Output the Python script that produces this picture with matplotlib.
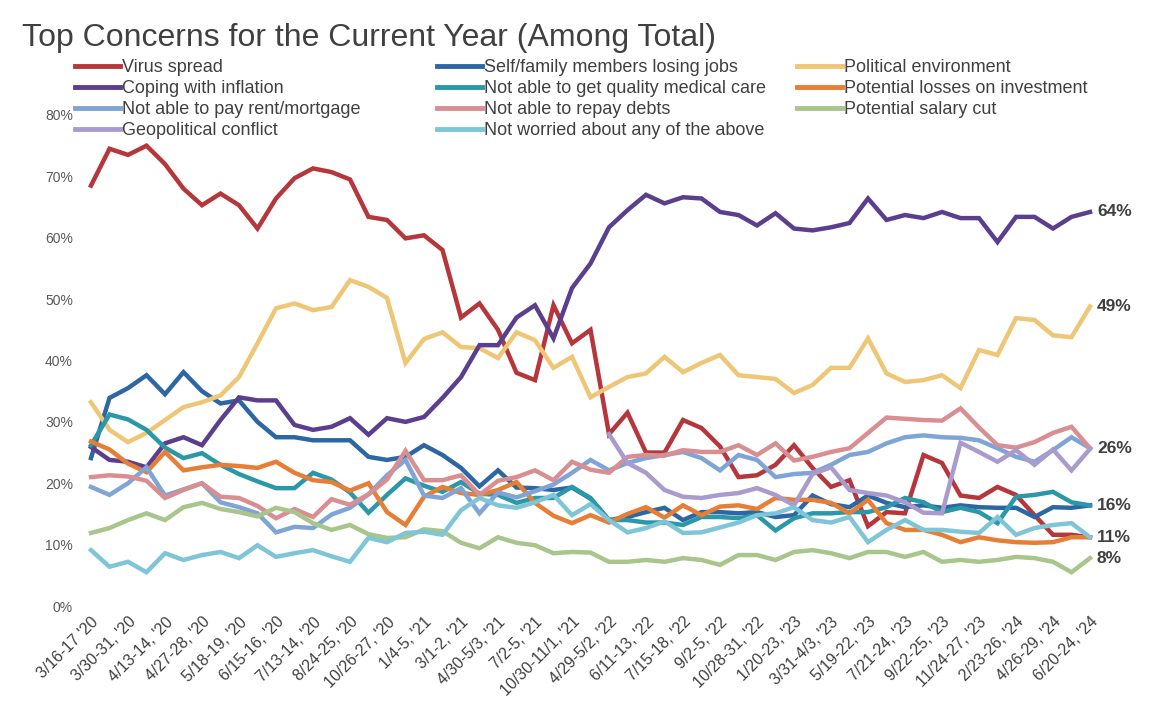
import numpy as np
import matplotlib
matplotlib.use("Agg")
import matplotlib.pyplot as plt
from matplotlib.lines import Line2D

# ---- data (percent), one value per survey wave ----
dates = ["3/16-17 '20", "3/30-31, '20", "4/13-14, '20", "4/27-28, '20", "5/18-19, '20",
         "6/15-16, '20", "7/13-14, '20", "8/24-25, '20", "10/26-27, '20", "1/4-5, '21",
         "3/1-2, '21", "4/30-5/3, '21", "7/2-5, '21", "10/30-11/1, '21", "4/29-5/2, '22",
         "6/11-13, '22", "7/15-18, '22", "9/2-5, '22", "10/28-31, '22", "1/20-23, '23",
         "3/31-4/3, '23", "5/19-22, '23", "7/21-24, '23", "9/22-25, '23", "11/24-27, '23",
         "2/23-26, '24", "4/26-29, '24", "6/20-24, '24"]

virus = [68.5, 74.5, 73.5, 75, 72, 68, 65.3, 67.2, 65.3, 61.5, 66.4, 69.7, 71.3, 70.7, 69.5,
         63.4, 62.9, 59.9, 60.4, 58, 47, 49.3, 45, 38, 36.8, 49, 42.8, 45, 28, 31.5,
         25, 25, 30.3, 29, 26, 21, 21.3, 23, 26.2, 22.5, 19.4, 20.5, 13, 15.3, 15.1,
         24.6, 23.3, 18, 17.6, 19.4, 18.1, 14.8, 11.6, 11.6, 11.2]
jobs = [24.1, 33.9, 35.5, 37.6, 34.5, 38.1, 35, 33, 33.5, 30, 27.5, 27.5, 27, 27, 27,
        24.3, 23.8, 24.3, 26.2, 24.6, 22.5, 19.5, 22.1, 19.3, 19.2, 18.9, 19.3, 17.5, 14, 14.5,
        15.3, 16, 14, 15.3, 15.3, 15.1, 15.3, 14.5, 14.8, 18, 16.6, 16.1, 18, 16.8, 16.1,
        16.4, 16, 16.4, 16.1, 16, 16, 14.5, 16.1, 16, 16.4]
political = [33.2, 28.7, 26.7, 28.2, 30.3, 32.4, 33.2, 34.3, 37.3, 42.8, 48.5, 49.3, 48.2, 48.7, 53.1,
             52, 50.2, 39.6, 43.5, 44.6, 42.2, 42, 40.4, 44.6, 43.3, 38.8, 40.6, 34, 35.7, 37.3,
             37.9, 40.6, 38.1, 39.6, 40.9, 37.6, 37.3, 37, 34.7, 36, 38.8, 38.8, 43.6, 37.9, 36.5,
             36.8, 37.6, 35.5, 41.7, 40.9, 46.9, 46.6, 44.1, 43.8, 48.8]
inflation = [25.9, 23.8, 23.5, 22.6, 26.5, 27.5, 26.2, 30.3, 34, 33.5, 33.5, 29.5, 28.7, 29.2, 30.6,
             27.9, 30.6, 30, 30.8, 33.9, 37.3, 42.5, 42.5, 47, 49, 43.6, 51.8, 55.8, 61.7, 64.5,
             67, 65.6, 66.6, 66.4, 64.2, 63.7, 62, 64, 61.5, 61.2, 61.7, 62.4, 66.4, 62.9, 63.7,
             63.2, 64.2, 63.2, 63.2, 59.3, 63.4, 63.4, 61.5, 63.4, 64.2]
medical = [26.2, 31.2, 30.4, 28.7, 25.8, 24.1, 24.9, 23, 21.5, 20.3, 19.2, 19.2, 21.7, 20.6, 18.5,
           15.2, 18.1, 20.8, 19.6, 18.6, 20.2, 18.3, 18.1, 16.8, 17.6, 17.6, 19.4, 17.6, 14, 14,
           13.6, 13.6, 13.2, 14.5, 14.5, 14.3, 14.8, 12.3, 14.3, 15.1, 15.1, 15.3, 15.3, 16.1, 17.6,
           16.9, 15.3, 16, 15.3, 13.5, 17.8, 18.1, 18.6, 16.9, 16.4]
investment = [26.8, 25.5, 23.2, 21.8, 25.1, 22.1, 22.6, 23, 22.8, 22.5, 23.5, 21.7, 20.5, 20.2, 18.8,
              20, 15.3, 13.2, 17.8, 19.4, 18.4, 18.1, 18.9, 20.2, 16.8, 14.7, 13.5, 14.8, 13.6, 15,
              16.1, 14.4, 16.4, 14.8, 16.2, 16.4, 15.8, 17.6, 17.3, 17.3, 16.8, 15.1, 17.3, 13.5, 12.4,
              12.4, 11.6, 10.4, 11.2, 10.7, 10.4, 10.3, 10.4, 11.2, 11.2]
rent = [19.4, 18.1, 20, 22.6, 18, 19, 20, 16.9, 16.1, 15.1, 12, 12.9, 12.7, 14.9, 16,
        18.2, 21.3, 23.8, 18, 17.6, 19.2, 15.1, 18.5, 17.7, 18.7, 19.8, 21.7, 23.8, 22.1, 23.3,
        24.1, 24.6, 25.1, 24.1, 22.1, 24.6, 23.8, 21, 21.5, 21.7, 23, 24.6, 25.1, 26.5, 27.5,
        27.8, 27.5, 27.4, 27, 25.7, 24.3, 23.5, 25.4, 27.5, 25.7]
debts = [21, 21.3, 21.1, 20.4, 17.6, 18.9, 20, 17.8, 17.6, 16.3, 14.3, 15.8, 14.5, 17.4, 16.5,
         18.2, 20.6, 25.3, 20.5, 20.5, 21.3, 18.1, 20.4, 21, 22.1, 20.5, 23.5, 22.2, 21.7, 24.3,
         24.6, 24.5, 25.4, 25.1, 25.1, 26.2, 24.6, 26.5, 23.7, 24.3, 25.1, 25.7, 28.2, 30.7, 30.5,
         30.3, 30.2, 32.2, 29.1, 26.2, 25.8, 26.7, 28.2, 29.2, 25.7]
salary = [11.9, 12.7, 14, 15.1, 14, 16.1, 16.8, 15.8, 15.3, 14.6, 16, 15.3, 13.5, 12.4, 13.2,
          11.7, 11.1, 11.2, 12.5, 12.2, 10.3, 9.4, 11.2, 10.3, 9.9, 8.6, 8.8, 8.7, 7.2, 7.2,
          7.5, 7.2, 7.8, 7.5, 6.7, 8.3, 8.3, 7.5, 8.8, 9.1, 8.6, 7.8, 8.8, 8.8, 8,
          8.8, 7.2, 7.5, 7.2, 7.5, 8, 7.8, 7.2, 5.5, 7.8]
geopolitical = [np.nan] * 28 + [28, 23.3, 21.7, 18.9, 17.8, 17.6, 18.1, 18.4, 19.2, 18.1, 16.4, 21.5,
                                22.6, 18.9, 18.4, 18, 16.9, 15.2, 15.1, 26.6, 25.1, 23.5, 25.4, 23,
                                25.5, 22.1, 25.6]
not_worried = [9.1, 6.4, 7.2, 5.5, 8.6, 7.5, 8.3, 8.8, 7.8, 9.9, 8, 8.6, 9.1, 8.1, 7.2,
               11.1, 10.4, 11.9, 12.1, 11.6, 15.6, 17.6, 16.4, 16, 16.9, 18.1, 14.8, 16.6, 14, 12,
               12.7, 13.8, 11.9, 12, 12.8, 13.6, 14.8, 15.1, 16.1, 14, 13.6, 14.5, 10.4, 12.4, 14,
               12.4, 12.4, 12.1, 11.9, 14.5, 11.6, 12.7, 13.2, 13.5, 11.2]

names = ["Virus spread", "Self/family members losing jobs", "Political environment",
         "Coping with inflation", "Not able to get quality medical care",
         "Potential losses on investment", "Not able to pay rent/mortgage",
         "Not able to repay debts", "Potential salary cut", "Geopolitical conflict",
         "Not worried about any of the above"]
series = [virus, jobs, political, inflation, medical, investment, rent, debts, salary,
          geopolitical, not_worried]
colors = ["#b5363b", "#2d67a3", "#efc675", "#5b3f8e", "#2a98a8", "#e67e35",
          "#7fa5d6", "#d98e91", "#a8c68b", "#a99bcd", "#7fc5d8"]

# series whose last value gets a label on the right
end_label_series = [3, 2, 7, 4, 0, 8]

plt.rcParams["font.family"] = ["Liberation Sans", "DejaVu Sans"]

fig = plt.figure(figsize=(11.62, 7.2), dpi=100)
ax = fig.add_axes([91 / 1162, 114 / 720, 999 / 1162, 491 / 720])

x = np.arange(len(virus))
for vals, col in zip(series, colors):
    ax.plot(x, vals, color=col, lw=3.2, solid_joinstyle="miter", clip_on=False)

ax.set_xlim(0, len(virus) - 1)
ax.set_ylim(0, 80)
ax.set_yticks(range(0, 81, 10))
ax.set_yticklabels([f"{v}%" for v in range(0, 81, 10)])
ax.set_xticks(x[::2])
ax.set_xticklabels(dates, rotation=45, ha="right", rotation_mode="anchor")
ax.tick_params(axis="y", length=0, pad=13, labelsize=10, labelcolor="#595959")
ax.tick_params(axis="x", length=0, pad=6, labelsize=11.5, labelcolor="#404040")
for s in ax.spines.values():
    s.set_visible(False)

for i in end_label_series:
    last = series[i][-1]
    ax.annotate(f"{round(last)}%", (x[-1], last), xytext=(5, 0), textcoords="offset points",
                va="center", ha="left", fontsize=12.5, fontweight="bold", color="#404040")

fig.text(22 / 1162, 1 - 38 / 720, "Top Concerns for the Current Year (Among Total)",
         fontsize=23, color="#404040", va="center", ha="left")

# legend laid out in three fixed columns like the original
col_x = [75, 437, 797]
for c in range(3):
    idx = list(range(c, len(names), 3))
    handles = [Line2D([], [], color=colors[i], lw=3.5) for i in idx]
    fig.legend(handles, [names[i] for i in idx], loc="upper left",
               bbox_to_anchor=(col_x[c] / 1162, 1 - 59 / 720), frameon=False,
               fontsize=13, handlelength=2.5, handletextpad=0.12, labelspacing=0.22,
               borderpad=0, borderaxespad=0, labelcolor="#404040")

fig.savefig("out.png", dpi=100)
